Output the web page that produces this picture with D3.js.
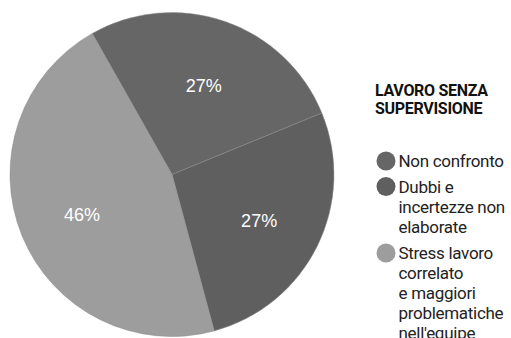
<!DOCTYPE html>
<html><head><meta charset="utf-8">
<script src="https://d3js.org/d3.v7.min.js"></script>
<style>
html,body{margin:0;padding:0;background:#fff;}
svg{display:block;}
</style></head>
<body><svg id="chart" width="511" height="338"></svg>
<script>
const categories = ["Non confronto", "Dubbi e incertezze non elaborate", "Stress lavoro correlato e maggiori problematiche nell'equipe"];
const values = [27, 27, 46];
const valueLabels = ["27%", "27%", "46%"];
const legendLines = [["Non confronto"], ["Dubbi e", "incertezze non", "elaborate"], ["Stress lavoro", "correlato", "e maggiori", "problematiche", "nell'equipe"]];
const colors = ["#666666", "#5f5f5f", "#9d9d9d"];
const title = ["LAVORO SENZA", "SUPERVISIONE"];

const svg = d3.select("#chart");
const cx = 172, cy = 174.5, R = 162;
const startA = -29.5 * Math.PI / 180;

const pie = d3.pie().sort(null).value(d => d)
  .startAngle(startA).endAngle(startA + 2 * Math.PI);
const arcs = pie(values);
const arc = d3.arc().innerRadius(0).outerRadius(R);
const labelArc = d3.arc().innerRadius(R * 0.6).outerRadius(R * 0.6);
const color = d3.scaleOrdinal().domain(d3.range(values.length)).range(colors);

const g = svg.append("g").attr("transform", `translate(${cx},${cy})`);
g.selectAll("path").data(arcs).enter().append("path")
  .attr("d", arc)
  .attr("fill", (d, i) => color(i))
  .attr("stroke", "#8a8a8a")
  .attr("stroke-width", 0.5);

g.selectAll("text.val").data(arcs).enter().append("text")
  .attr("class", "val")
  .attr("transform", d => `translate(${labelArc.centroid(d)})`)
  .attr("text-anchor", "middle")
  .attr("dy", "0.52em")
  .attr("fill", "#fff")
  .style("font-family", "'Liberation Sans', Arial, sans-serif")
  .style("font-size", "18px")
  .text((d, i) => valueLabels[i]);

// Legend
const lg = svg.append("g");
lg.selectAll("text.title").data(title).enter().append("text")
  .attr("x", 375).attr("y", (d, i) => 95.5 + i * 18)
  .attr("fill", "#111")
  .style("font-family", "Roboto, sans-serif")
  .style("font-weight", "700")
  .style("font-size", "16px")
  .style("letter-spacing", "-0.3px")
  .text(d => d);

const baseY = [167, 192.5, 259];
const lineH = 20;
categories.forEach((c, i) => {
  lg.append("circle")
    .attr("cx", 386).attr("cy", baseY[i] - 6).attr("r", 9.5)
    .attr("fill", color(i));
  legendLines[i].forEach((line, j) => {
    lg.append("text")
      .attr("x", 398.5).attr("y", baseY[i] + j * lineH)
      .attr("fill", "#222")
      .style("font-family", "Roboto, sans-serif")
      .style("font-size", "17px")
      .style("letter-spacing", "-0.3px")
      .text(line);
  });
});
</script></body></html>
